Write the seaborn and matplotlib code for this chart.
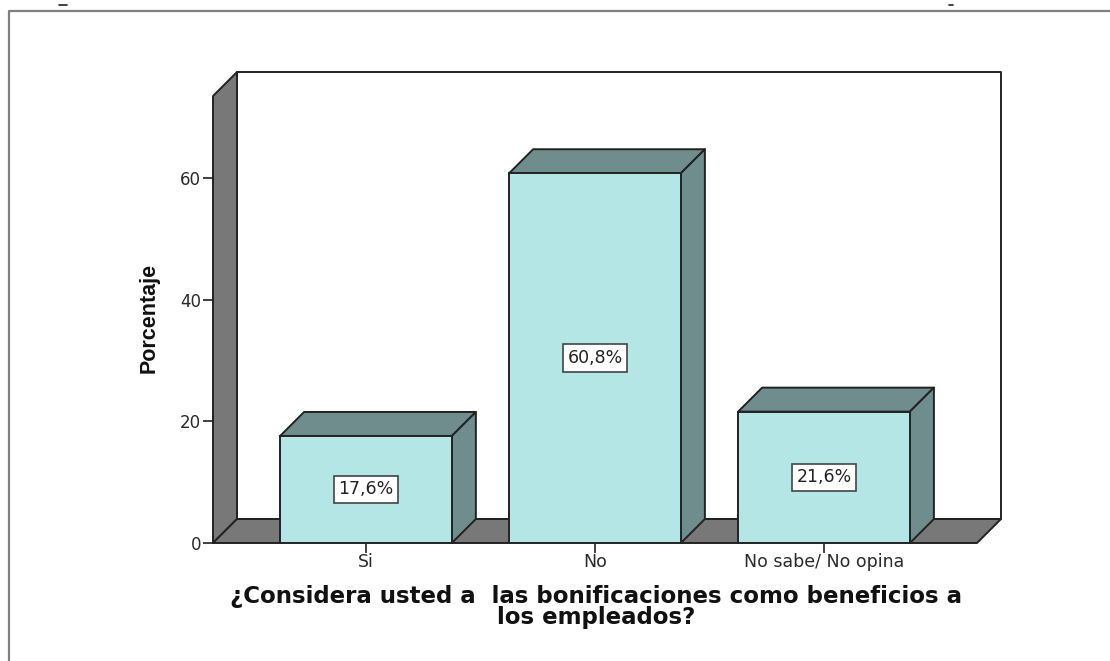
import matplotlib
matplotlib.use("Agg")
import matplotlib.pyplot as plt
from matplotlib.lines import Line2D
from matplotlib.patches import Polygon
import pandas as pd
import seaborn as sns

categories = ["Si", "No", "No sabe/ No opina"]
percentages = [17.6, 60.8, 21.6]
y_ticks = [0, 20, 40, 60]

FACE = "#b5e6e6"
SHADE = "#6f8d8d"
WALL = "#787878"
LINE = "#222222"
W, H = 1110, 661

sns.set_theme(style="white")
plt.rcParams["font.family"] = ["DejaVu Sans"]

df = pd.DataFrame({"Respuesta": categories, "Porcentaje": percentages})

fig = plt.figure(figsize=(W / 100, H / 100), dpi=100)
ax = fig.add_axes([213 / W, (H - 543) / H, 764 / W, 447 / H])
ax.patch.set_alpha(0)

sns.barplot(data=df, x="Respuesta", y="Porcentaje", color=FACE, saturation=1,
            width=0.75, edgecolor=LINE, linewidth=1.4, ax=ax, zorder=5)

ax.set_xlim(-0.668, 2.668)
ax.set_ylim(0, 73.5)

# depth of the fake 3D box, in data units (24 px each way)
dx = 24 / 229
dy = 24 / (365 / 60)
x0, x1 = ax.get_xlim()
y0, y1 = ax.get_ylim()


def face(points, color, z):
    ax.add_patch(Polygon(points, closed=True, facecolor=color, edgecolor=LINE,
                         linewidth=1.4, clip_on=False, zorder=z, joinstyle="round"))


# back wall, side wall, floor
face([(x0 + dx, y0 + dy), (x1 + dx, y0 + dy), (x1 + dx, y1 + dy), (x0 + dx, y1 + dy)], "white", 1)
face([(x0, y0), (x0 + dx, y0 + dy), (x0 + dx, y1 + dy), (x0, y1)], WALL, 2)
face([(x0, y0), (x1, y0), (x1 + dx, y0 + dy), (x0 + dx, y0 + dy)], WALL, 2)

# top and side of every bar, plus the label box
for bar, value in zip(ax.patches[:len(percentages)], percentages):
    left, right = bar.get_x(), bar.get_x() + bar.get_width()
    face([(left, value), (right, value), (right + dx, value + dy), (left + dx, value + dy)], SHADE, 4)
    face([(right, 0), (right + dx, dy), (right + dx, value + dy), (right, value)], SHADE, 4)
    ax.text((left + right) / 2, value / 2, f"{value:.1f}%".replace(".", ","),
            ha="center", va="center", fontsize=12.5, color="#222222", zorder=7,
            bbox=dict(boxstyle="square,pad=0.27", facecolor="white", edgecolor="#444444", linewidth=1.2))

ax.set_yticks(y_ticks)
ax.tick_params(axis="both", length=7, width=1.3, color="#333333", labelcolor="#2a2a2a",
               left=True, bottom=True)
ax.tick_params(axis="y", labelsize=12, pad=1.5)
ax.tick_params(axis="x", labelsize=12.5, pad=0.5)
ax.set_xlabel("")
ax.set_ylabel("")
sns.despine(ax=ax, top=True, right=True, left=True, bottom=True)

fig.text(149 / W, 1 - 318 / H, "Porcentaje", rotation=90, ha="center", va="center",
         fontsize=15.5, fontweight="bold", color="#111111", family="Liberation Sans")
fig.text(596 / W, 1 - 607 / H, "¿Considera usted a  las bonificaciones como beneficios a\nlos empleados?",
         ha="center", va="center", fontsize=16.5, fontweight="bold", color="#111111",
         family="DejaVu Sans", linespacing=0.87)

# page frame and the clipped marks at the top edge
fig.add_artist(Line2D([9 / W, 9 / W, 1], [0, 1 - 11 / H, 1 - 11 / H], color="#808080", linewidth=1.6))
fig.add_artist(Line2D([59 / W, 67 / W], [1 - 4.5 / H, 1 - 4.5 / H], color="#222222", linewidth=1.2))
fig.add_artist(Line2D([949 / W, 953 / W], [1 - 4.5 / H, 1 - 4.5 / H], color="#222222", linewidth=1.2))

fig.savefig("out.png", dpi=100)
